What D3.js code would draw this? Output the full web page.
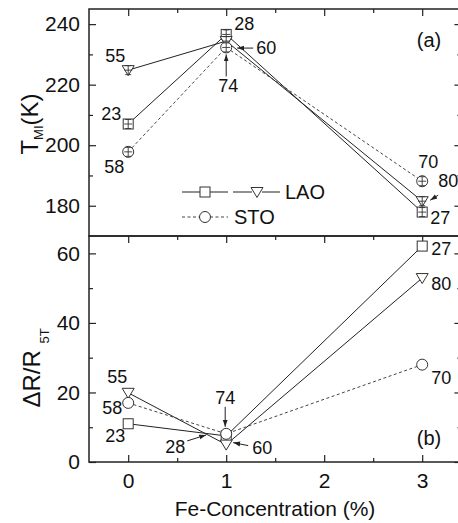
<!DOCTYPE html>
<html>
<head>
<meta charset="utf-8">
<script src="https://cdn.jsdelivr.net/npm/d3@7"></script>
<style>
  body { margin: 0; background: #fff; }
  svg { display: block; }
  text { font-family: Arial, "Liberation Sans", sans-serif; fill: #111; }
</style>
</head>
<body>
<div id="chart"></div>
<script>
// Fe concentration (%)
const fe = [0, 1, 3];

// T_MI (K), top panel
const tmiLaoSquare = [207, 236.6, 177.9];
const tmiLaoTriangle = [224.8, 234.4, 181.5];
const tmiSto = [197.8, 232.3, 188.1];

// dR/R 5T, bottom panel
const drLaoSquare = [11, 7.5, 62.1];
const drLaoTriangle = [19.9, 5, 52.9];
const drSto = [17, 8.1, 28];

// numbers written next to the points
const squareTags = [23, 28, 27];
const triangleTags = [55, 60, 80];
const stoTags = [58, 74, 70];

const xTicks = [0, 1, 2, 3];
const xMinor = [0.5, 1.5, 2.5];
const tmiTicks = [180, 200, 220, 240];
const tmiMinor = [190, 210, 230];
const drTicks = [0, 20, 40, 60];
const drMinor = [10, 30, 50];

const W = 458, H = 523;
const padL = 89, padR = 461.4, padT = 9, padM = 236, padB = 462;

const svg = d3.select('#chart').append('svg').attr('width', W).attr('height', H);

svg.append('defs').append('marker')
  .attr('id', 'ah').attr('viewBox', '0 0 10 10')
  .attr('refX', 10).attr('refY', 5)
  .attr('markerWidth', 7).attr('markerHeight', 7)
  .attr('orient', 'auto')
  .append('path').attr('d', 'M0,1.5 L10,5 L0,8.5 z').attr('fill', '#222');

const x = d3.scaleLinear().domain([-0.4, 3.4]).range([padL, padR]);
const yT = d3.scaleLinear().domain([170, 245]).range([padM, padT]);
const yB = d3.scaleLinear().domain([0, 65]).range([padB, padM]);

// ticks, all pointing inward
function axis(gen, tx, ty, vals, size, labels, pad) {
  const g = svg.append('g').attr('transform', `translate(${tx},${ty})`)
    .call(gen.tickValues(vals).tickSize(-size).tickPadding(pad || 0)
      .tickFormat(labels ? d3.format('d') : ''));
  g.select('.domain').remove();
  g.selectAll('line').attr('stroke', '#222').attr('stroke-width', 1.2);
  g.selectAll('text').attr('font-size', 21).attr('font-family', 'Arial, "Liberation Sans", sans-serif').attr('fill', '#111');
  return g;
}

// top panel
axis(d3.axisLeft(yT), padL, 0, tmiTicks, 7, true, 9);
axis(d3.axisLeft(yT), padL, 0, tmiMinor, 4);
axis(d3.axisRight(yT), padR, 0, tmiTicks, 7);
axis(d3.axisRight(yT), padR, 0, tmiMinor, 4);
axis(d3.axisTop(x), 0, padT, xTicks, 7);
axis(d3.axisTop(x), 0, padT, xMinor, 4);

// bottom panel
axis(d3.axisLeft(yB), padL, 0, drTicks, 7, true, 9);
axis(d3.axisLeft(yB), padL, 0, drMinor, 4);
axis(d3.axisRight(yB), padR, 0, drTicks, 7);
axis(d3.axisRight(yB), padR, 0, drMinor, 4);
axis(d3.axisTop(x), 0, padM, xTicks, 7);
axis(d3.axisTop(x), 0, padM, xMinor, 4);
axis(d3.axisBottom(x), 0, padB, xTicks, 7, true, 11);
axis(d3.axisBottom(x), 0, padB, xMinor, 4);

// frames
[[padT, padM], [padM, padB]].forEach(([a, b]) => {
  svg.append('rect').attr('x', padL).attr('y', a)
    .attr('width', padR - padL).attr('height', b - a)
    .attr('fill', 'none').attr('stroke', '#222').attr('stroke-width', 1.5);
});

function marker(g, shape, cx, cy) {
  if (shape === 'square') {
    g.append('rect').attr('x', cx - 5).attr('y', cy - 5).attr('width', 10).attr('height', 10)
      .attr('fill', '#fff').attr('stroke', '#333').attr('stroke-width', 1);
  } else if (shape === 'triangle') {
    g.append('path').attr('d', `M${cx - 6},${cy - 4.5}L${cx + 6},${cy - 4.5}L${cx},${cy + 5.5}Z`)
      .attr('fill', '#fff').attr('stroke', '#333').attr('stroke-width', 1);
  } else {
    g.append('circle').attr('cx', cx).attr('cy', cy).attr('r', 5.5)
      .attr('fill', '#fff').attr('stroke', '#333').attr('stroke-width', 1);
  }
}

function errBar(g, cx, cy) {
  const p = `M${cx},${cy - 4.5}V${cy + 4.5}M${cx - 3},${cy - 4.5}H${cx + 3}M${cx - 3},${cy + 4.5}H${cx + 3}M${cx - 4},${cy}H${cx + 4}`;
  g.append('path').attr('d', p).attr('fill', 'none').attr('stroke', '#333').attr('stroke-width', 0.9);
}

const series = [
  { shape: 'square', t: tmiLaoSquare, b: drLaoSquare, dash: null },
  { shape: 'triangle', t: tmiLaoTriangle, b: drLaoTriangle, dash: null },
  { shape: 'circle', t: tmiSto, b: drSto, dash: '3,2.5' }
];

function drawPanel(y, key, bars) {
  const g = svg.append('g');
  series.forEach(s => {
    const pts = fe.map((f, i) => [f, s[key][i]]);
    g.append('path').datum(pts)
      .attr('d', d3.line().x(d => x(d[0])).y(d => y(d[1])))
      .attr('fill', 'none')
      .attr('stroke', s.dash ? '#444' : '#222')
      .attr('stroke-width', 1)
      .attr('stroke-dasharray', s.dash);
  });
  series.forEach(s => {
    fe.forEach((f, i) => {
      marker(g, s.shape, x(f), y(s[key][i]));
      if (bars) errBar(g, x(f), y(s[key][i]));
    });
  });
}
drawPanel(yT, 't', true);
drawPanel(yB, 'b', false);

// labels next to points
function tag(y, vals, tags, i, dx, dy, anchor) {
  svg.append('text')
    .attr('x', x(fe[i]) + dx).attr('y', y(vals[i]) + dy)
    .attr('dy', '0.35em').attr('text-anchor', anchor || 'middle')
    .attr('font-size', 18).text(tags[i]);
}
function arrow(y, vals, i, x1, y1, x2, y2) {
  const px = x(fe[i]), py = y(vals[i]);
  svg.append('line')
    .attr('x1', px + x1).attr('y1', py + y1).attr('x2', px + x2).attr('y2', py + y2)
    .attr('stroke', '#222').attr('stroke-width', 1).attr('marker-end', 'url(#ah)');
}

// top panel tags
tag(yT, tmiLaoTriangle, triangleTags, 0, -13, -14);
tag(yT, tmiLaoSquare, squareTags, 0, -17, -10);
tag(yT, tmiSto, stoTags, 0, -14, 15);
tag(yT, tmiLaoSquare, squareTags, 1, 18, -11);
tag(yT, tmiLaoTriangle, triangleTags, 1, 30, 7, 'start');
arrow(yT, tmiLaoTriangle, 1, 27, 7, 11, 7);
tag(yT, tmiSto, stoTags, 1, 2, 38);
arrow(yT, tmiSto, 1, 0, 29, 0, 7);
tag(yT, tmiSto, stoTags, 2, 6, -20);
tag(yT, tmiLaoTriangle, triangleTags, 2, 16, -20, 'start');
arrow(yT, tmiLaoTriangle, 2, 16, -6, 8, -1);
tag(yT, tmiLaoSquare, squareTags, 2, 8, 6, 'start');

// bottom panel tags
tag(yB, drLaoTriangle, triangleTags, 0, -11, -16);
tag(yB, drSto, stoTags, 0, -16, 5);
tag(yB, drLaoSquare, squareTags, 0, -13, 12);
tag(yB, drLaoSquare, squareTags, 1, -51, 11);
arrow(yB, drLaoSquare, 1, -39, 5, -20, -1);
tag(yB, drSto, stoTags, 1, -1, -36);
arrow(yB, drSto, 1, -1, -27, -1, -7);
tag(yB, drLaoTriangle, triangleTags, 1, 26, 3, 'start');
arrow(yB, drLaoTriangle, 1, 22, 1, 7, -2);
tag(yB, drLaoSquare, squareTags, 2, 9, 3, 'start');
tag(yB, drLaoTriangle, triangleTags, 2, 9, 6, 'start');
tag(yB, drSto, stoTags, 2, 9, 13, 'start');

// panel letters
svg.append('text').attr('x', 429).attr('y', 40).attr('dy', '0.35em')
  .attr('text-anchor', 'middle').attr('font-size', 20).text('(a)');
svg.append('text').attr('x', 429).attr('y', 438).attr('dy', '0.35em')
  .attr('text-anchor', 'middle').attr('font-size', 20).text('(b)');

// legend
const leg = svg.append('g');
function legLine(x1, x2, y, dash) {
  leg.append('line').attr('x1', x1).attr('x2', x2).attr('y1', y).attr('y2', y)
    .attr('stroke', dash ? '#444' : '#222').attr('stroke-width', 1).attr('stroke-dasharray', dash);
}
legLine(182, 200, 192); legLine(210, 228, 192);
marker(leg, 'square', 205, 192);
legLine(233, 252, 192); legLine(262, 280, 192);
marker(leg, 'triangle', 257, 192);
leg.append('text').attr('x', 285).attr('y', 192).attr('dy', '0.35em').attr('font-size', 20).text('LAO');
legLine(182, 200, 217, '3,2.5'); legLine(210, 228, 217, '3,2.5');
marker(leg, 'circle', 205, 217);
leg.append('text').attr('x', 234).attr('y', 217).attr('dy', '0.35em').attr('font-size', 20).text('STO');

// axis titles
svg.append('text').attr('x', 275).attr('y', 516).attr('text-anchor', 'middle')
  .attr('font-size', 21).text('Fe-Concentration (%)');

const t1 = svg.append('text').attr('transform', 'translate(38,124) rotate(-90)')
  .attr('text-anchor', 'middle').attr('font-size', 24);
t1.append('tspan').text('T');
t1.append('tspan').attr('font-size', 13).attr('dy', 5).text('MI');
t1.append('tspan').attr('dy', -5).text('(K)');

const t2 = svg.append('text').attr('transform', 'translate(40,368) rotate(-90)')
  .attr('text-anchor', 'middle').attr('font-size', 24);
t2.append('tspan').text('\u0394R/R ');
t2.append('tspan').attr('font-size', 13).attr('dy', 9).text('5T');
</script>
</body>
</html>
